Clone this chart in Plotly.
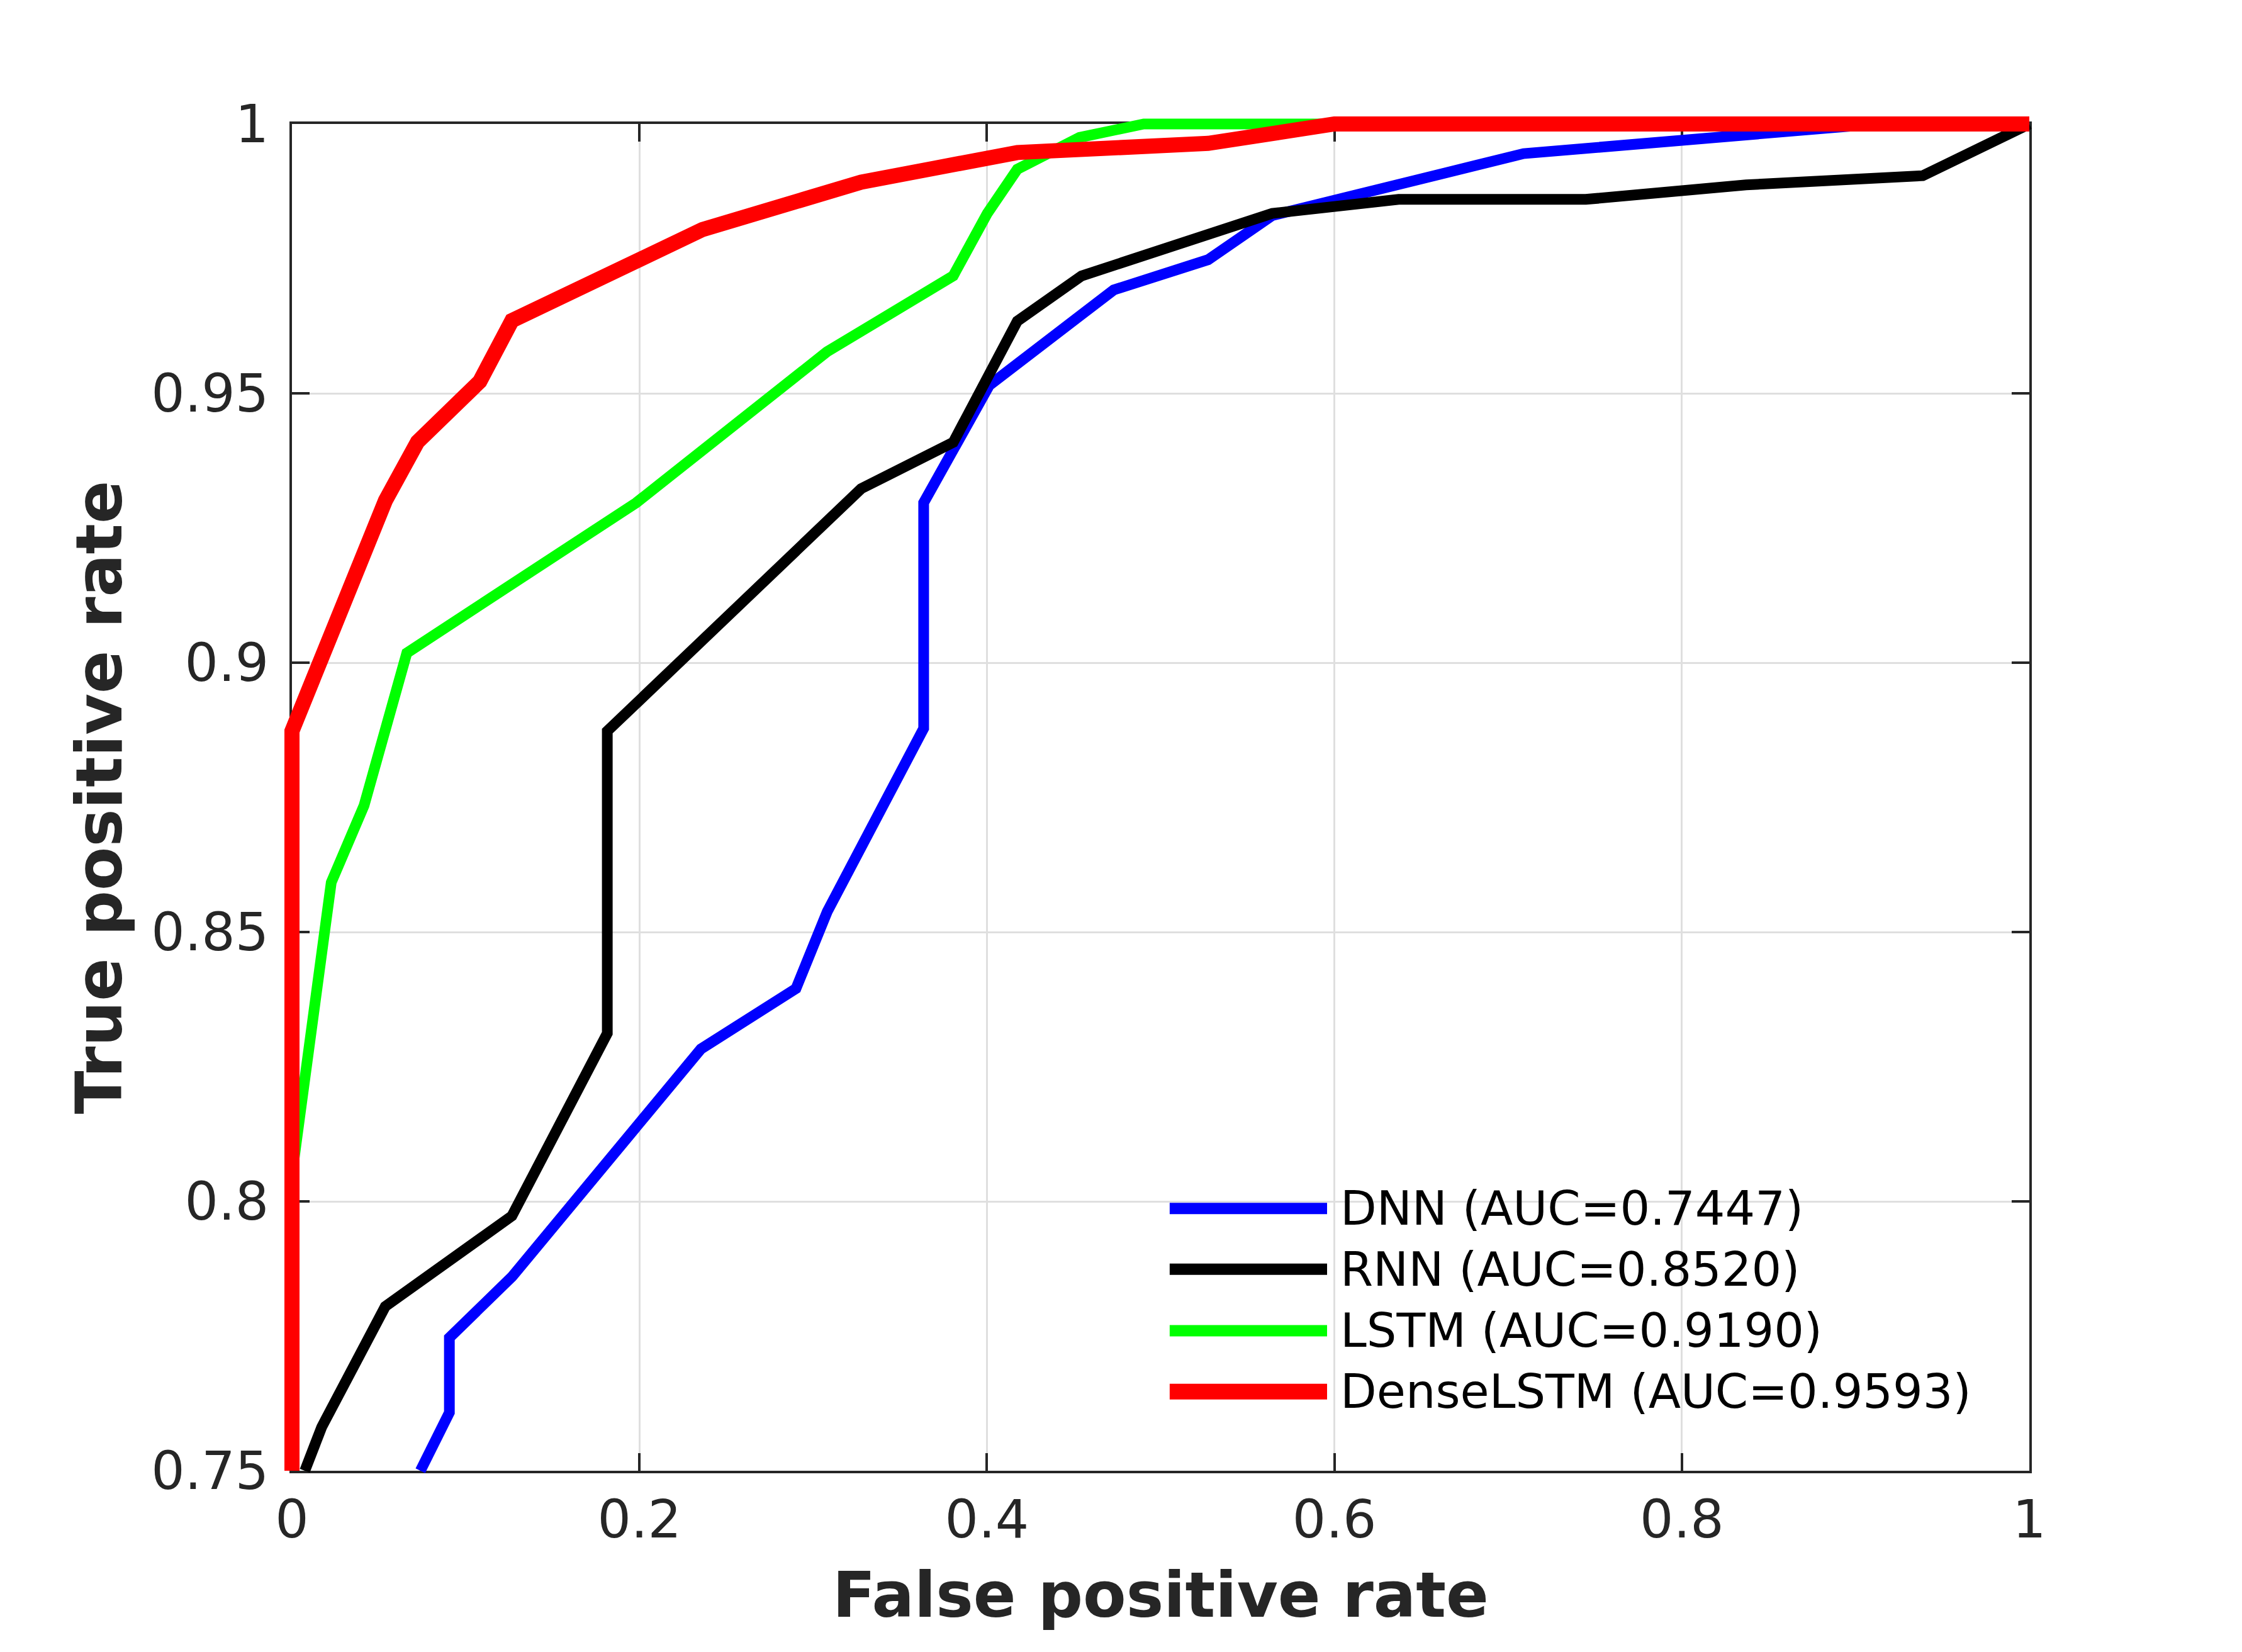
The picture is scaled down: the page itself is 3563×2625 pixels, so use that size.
import plotly.graph_objects as go

# ---------------- data ----------------
fpr_dnn = [0.0739, 0.0906, 0.0906, 0.1266, 0.2354, 0.2901, 0.3081, 0.3636, 0.3636,
           0.4014, 0.4730, 0.5273, 0.5642, 0.7089, 0.9120, 1.0]
tpr_dnn = [0.7500, 0.7608, 0.7747, 0.7860, 0.8283, 0.8395, 0.8538, 0.8878, 0.9297,
           0.9515, 0.9692, 0.9748, 0.9830, 0.9945, 1.0000, 1.0]

fpr_rnn = [0.0074, 0.0171, 0.0537, 0.1266, 0.1815, 0.1815, 0.3276, 0.3806, 0.4175,
           0.4545, 0.5642, 0.6370, 0.7447, 0.8370, 0.9387, 1.0]
tpr_rnn = [0.7500, 0.7581, 0.7805, 0.7973, 0.8312, 0.8873, 0.9323, 0.9409, 0.9634,
           0.9718, 0.9834, 0.9860, 0.9860, 0.9887, 0.9904, 1.0]

fpr_lstm = [0.0, 0.0, 0.0226, 0.0415, 0.0661, 0.1982, 0.3079, 0.3806, 0.4002,
            0.4175, 0.4533, 0.4903, 1.0]
tpr_lstm = [0.75, 0.805, 0.8592, 0.8735, 0.9018, 0.9297, 0.9577, 0.9718, 0.9834,
            0.9916, 0.9975, 1.0, 1.0]

fpr_dense = [0.0, 0.0, 0.0538, 0.0723, 0.1081, 0.1266, 0.2363, 0.3276, 0.4175,
             0.5273, 0.6000, 1.0]
tpr_dense = [0.75, 0.8873, 0.9301, 0.9410, 0.9522, 0.9635, 0.9804, 0.9892, 0.9947,
             0.9964, 1.0, 1.0]

model_names = ["DNN", "RNN", "LSTM", "DenseLSTM"]
auc_values = ["0.7447", "0.8520", "0.9190", "0.9593"]

x_tick_vals = [0, 0.2, 0.4, 0.6, 0.8, 1]
x_tick_text = ["0", "0.2", "0.4", "0.6", "0.8", "1"]
y_tick_vals = [0.75, 0.8, 0.85, 0.9, 0.95, 1]
y_tick_text = ["0.75", "0.8", "0.85", "0.9", "0.95", "1"]

x_title = "False positive rate"
y_title = "True positive rate"

# ---------------- styling ----------------
colors = ["#0000FF", "#000000", "#00FF00", "#FF0000"]
widths = [17, 17, 17, 24]
FONT = "DejaVu Sans"
AX = "#262626"

BODY = 8                              # default page body margin
W, H = 3563 - 2 * BODY, 2625 - 2 * BODY
pw, ph = 2761, 2140                   # visible axes box size
ML, MT = 464 - BODY, 197 - BODY
MR, MB = W - ML - pw, H - MT - ph
PAD = 30                              # extra room so thick lines are not cut at the box
PW = pw + 2 * PAD
PH = ph + 2 * PAD

x_range = [0, 1]
y_range = [0.75, 1]
dx = (x_range[1] - x_range[0]) * PAD / pw
dy = (y_range[1] - y_range[0]) * PAD / ph

series = [(fpr_dnn, tpr_dnn), (fpr_rnn, tpr_rnn), (fpr_lstm, tpr_lstm), (fpr_dense, tpr_dense)]

fig = go.Figure()
for (xs, ys), name, auc, col, lw in zip(series, model_names, auc_values, colors, widths):
    fig.add_trace(go.Scatter(
        x=xs, y=ys, mode="lines", name=f"{name} (AUC={auc})",
        line=dict(color=col, width=lw), xaxis="x2", yaxis="y2", showlegend=False,
    ))

axis_common = dict(
    showline=True, linecolor=AX, linewidth=4, mirror="ticks",
    ticks="inside", ticklen=28, tickwidth=4, tickcolor=AX,
    showgrid=True, gridcolor="#dfdfdf", gridwidth=3, zeroline=False,
    tickfont=dict(family=FONT, size=84, color=AX),
)

fig.update_layout(
    width=W, height=H,
    margin=dict(l=ML - PAD, r=MR - PAD, t=MT - PAD, b=MB - PAD, autoexpand=False),
    paper_bgcolor="white", plot_bgcolor="rgba(0,0,0,0)",
    showlegend=False,
    xaxis=dict(
        domain=[PAD / PW, 1 - PAD / PW], range=x_range, anchor="y",
        tickvals=x_tick_vals, ticktext=x_tick_text, ticklabelstandoff=1,
        title=dict(text=f"<b>{x_title}</b>", font=dict(family=FONT, size=100, color=AX), standoff=38),
        **axis_common,
    ),
    yaxis=dict(
        domain=[PAD / PH, 1 - PAD / PH], range=y_range, anchor="x",
        tickvals=y_tick_vals, ticktext=y_tick_text, ticklabelstandoff=16,
        title=dict(text=f"<b>{y_title}</b>", font=dict(family=FONT, size=101, color=AX), standoff=14),
        **axis_common,
    ),
    xaxis2=dict(domain=[0, 1], range=[x_range[0] - dx, x_range[1] + dx], anchor="y2",
                visible=False, showgrid=False, zeroline=False),
    yaxis2=dict(domain=[0, 1], range=[y_range[0] - dy, y_range[1] + dy], anchor="x2",
                visible=False, showgrid=False, zeroline=False),
)

# ---------------- legend (MATLAB style, no box) ----------------
leg_x0, leg_x1, leg_tx = 0.5052, 0.5958, 0.6025
leg_rows = [0.7987, 0.7874, 0.7760, 0.7647]
leg_widths = [18, 18, 18, 25]
for name, auc, col, lw, yy in zip(model_names, auc_values, colors, leg_widths, leg_rows):
    fig.add_shape(type="line", xref="x", yref="y", x0=leg_x0, x1=leg_x1, y0=yy, y1=yy,
                  line=dict(color=col, width=lw), layer="above")
    fig.add_annotation(x=leg_tx, y=yy, xref="x", yref="y", xanchor="left", yanchor="middle",
                       text=f"{name} (AUC={auc})", showarrow=False,
                       font=dict(family=FONT, size=75, color="#000000"))

fig.write_html("out.html")
